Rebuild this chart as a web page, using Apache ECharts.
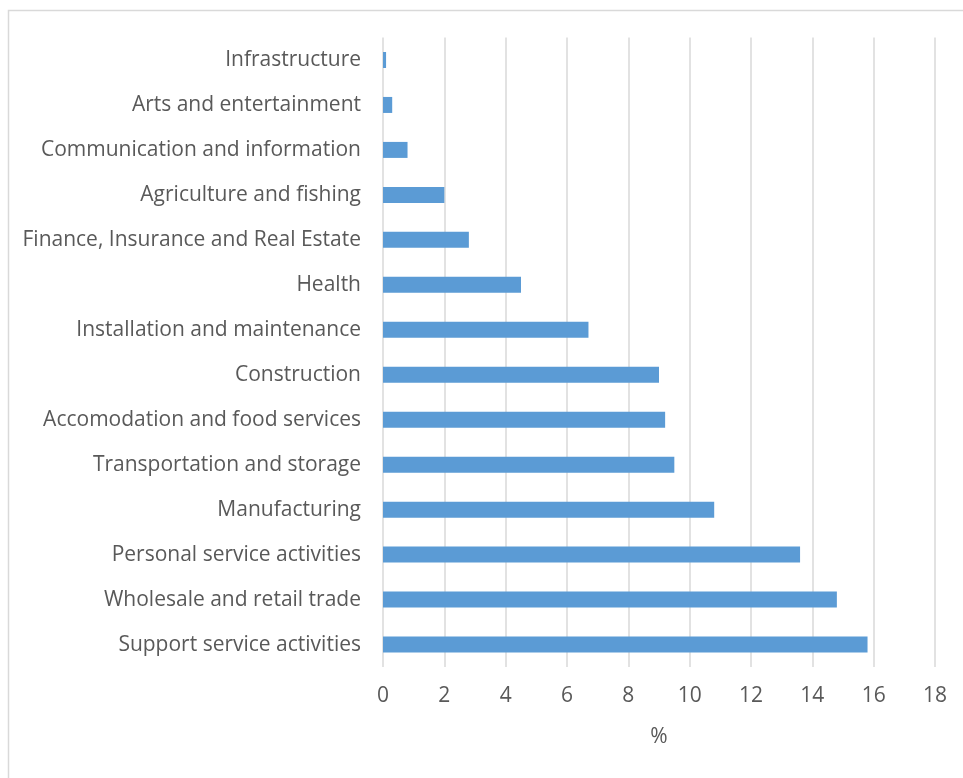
<!DOCTYPE html>
<html><head><meta charset="utf-8">
<script src="https://cdn.jsdelivr.net/npm/echarts@6/dist/echarts.min.js"></script>
<style>html,body{margin:0;padding:0;background:#fff;}#c{width:963px;height:778px;}</style>
</head><body><div id="c"></div>
<script>
const categories = [
  "Support service activities",
  "Wholesale and retail trade",
  "Personal service activities",
  "Manufacturing",
  "Transportation and storage",
  "Accomodation and food services",
  "Construction",
  "Installation and maintenance",
  "Health",
  "Finance, Insurance and Real Estate",
  "Agriculture and fishing",
  "Communication and information",
  "Arts and entertainment",
  "Infrastructure"
];
const values = [15.8, 14.8, 13.6, 10.8, 9.5, 9.2, 9.0, 6.7, 4.5, 2.8, 2.0, 0.8, 0.3, 0.1];
const axisMin = 0, axisMax = 18, axisStep = 2;
const axisName = "%";

const chart = echarts.init(document.getElementById('c'), null, {renderer: 'canvas'});
const FONT = '"Open Sans", "Noto Sans", sans-serif';
chart.setOption({
  animation: false,
  backgroundColor: '#ffffff',
  graphic: [{
    type: 'rect', left: 6, top: 8,
    shape: {width: 1000, height: 1000},
    style: {fill: 'none', stroke: '#d9d9d9', lineWidth: 1.5},
    silent: true
  }],
  grid: {left: 383, right: 28, top: 37.5, bottom: 111, containLabel: false},
  xAxis: {
    type: 'value', min: axisMin, max: axisMax, interval: axisStep,
    name: axisName, nameLocation: 'middle', nameGap: 60,
    nameTextStyle: {color: '#595959', fontSize: 21, fontFamily: FONT},
    axisLine: {show: false}, axisTick: {show: false},
    axisLabel: {color: '#595959', fontSize: 21, fontFamily: FONT, margin: 19},
    splitLine: {show: true, lineStyle: {color: '#d9d9d9', width: 1.5}}
  },
  yAxis: {
    type: 'category', data: categories,
    axisLine: {show: false}, axisTick: {show: false},
    axisLabel: {color: '#595959', fontSize: 21, fontFamily: FONT, margin: 22},
    splitLine: {show: false}
  },
  series: [{
    type: 'bar', data: values, barWidth: 16,
    itemStyle: {color: '#5b9bd5'}
  }]
});
</script></body></html>
